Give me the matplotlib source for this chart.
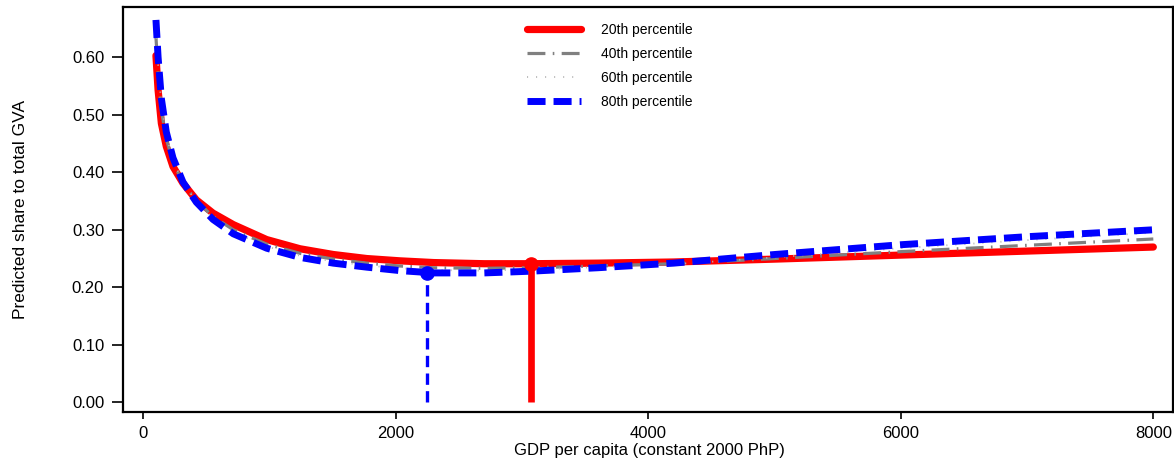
import matplotlib
matplotlib.use("Agg")
import matplotlib.pyplot as plt

plt.rcParams["font.family"] = ["Liberation Sans", "DejaVu Sans"]

# GDP per capita grid (constant 2000 PhP)
gdp = [100, 117, 143, 182, 235, 314, 420, 552, 713, 977, 1241, 1505, 1770,
       2033, 2300, 2700, 3070, 3600, 4200, 5000, 6000, 7000, 8000]

# Predicted share to total GVA by percentile
p20 = [0.603, 0.543, 0.485, 0.445, 0.410, 0.381, 0.352, 0.329, 0.309, 0.283,
       0.267, 0.257, 0.250, 0.246, 0.243, 0.241, 0.241, 0.242, 0.244, 0.249,
       0.256, 0.263, 0.270]
p40 = [0.635, 0.575, 0.508, 0.458, 0.418, 0.382, 0.350, 0.323, 0.300, 0.275,
       0.259, 0.249, 0.242, 0.237, 0.234, 0.233, 0.234, 0.237, 0.241, 0.250,
       0.262, 0.273, 0.284]
p60 = [0.650, 0.588, 0.518, 0.464, 0.421, 0.382, 0.349, 0.320, 0.296, 0.271,
       0.255, 0.245, 0.238, 0.233, 0.230, 0.229, 0.231, 0.235, 0.240, 0.252,
       0.268, 0.282, 0.295]
p80 = [0.665, 0.600, 0.528, 0.470, 0.425, 0.383, 0.348, 0.318, 0.293, 0.268,
       0.252, 0.242, 0.235, 0.229, 0.225, 0.225, 0.228, 0.234, 0.242, 0.257,
       0.274, 0.288, 0.300]

# Turning points of the 20th and 80th percentile curves
turn20 = (3070, 0.241)
turn80 = (2250, 0.225)

series_labels = ["20th percentile", "40th percentile", "60th percentile", "80th percentile"]
xticks = [0, 2000, 4000, 6000, 8000]
yticks = [0.0, 0.1, 0.2, 0.3, 0.4, 0.5, 0.6]

W, H = 1174, 462
fig = plt.figure(figsize=(W / 100, H / 100), dpi=100)
ax = fig.add_axes([123 / W, 1 - 412 / H, (1172.5 - 123) / W, (412 - 7) / H])

ax.plot(gdp, p20, color="#ff0000", lw=5.2, solid_capstyle="round",
        label=series_labels[0], zorder=3)
ax.plot(gdp, p40, color="#808080", lw=2.3, dashes=(5.6, 2.3, 0.5, 2.3),
        label=series_labels[1], zorder=4)
ax.plot(gdp, p60, color="#b8b8b8", lw=1.3, dashes=(0.6, 4.4),
        label=series_labels[2], zorder=4)
ax.plot(gdp, p80, color="#0000ff", lw=5.0, dashes=(2.6, 1.15),
        label=series_labels[3], zorder=5)

# Drop lines from the turning points to the axis
ax.plot([turn20[0], turn20[0]], [0, turn20[1]], color="#ff0000", lw=4.8,
        solid_capstyle="butt", zorder=3)
ax.plot([turn80[0], turn80[0]], [0, turn80[1]], color="#0000ff", lw=2.4,
        dashes=(3.4, 1.9), zorder=5)
ax.plot([turn20[0]], [turn20[1]], "o", color="#ff0000", ms=9.5, zorder=6)
ax.plot([turn80[0]], [turn80[1]], "o", color="#0000ff", ms=9.5, zorder=6)

ax.set_xlim(-161, 8152)
ax.set_ylim(-0.0169, 0.6875)
ax.set_xticks(xticks)
ax.set_xticklabels([str(v) for v in xticks])
ax.set_yticks(yticks)
ax.set_yticklabels([f"{v:.2f}" for v in yticks])
ax.tick_params(axis="x", direction="out", length=5, width=1.2, pad=5,
               labelsize=12, colors="black")
ax.tick_params(axis="y", direction="out", length=8, width=1.2, pad=5.5,
               labelsize=12, colors="black")
for s in ax.spines.values():
    s.set_linewidth(1.6)
    s.set_color("black")

ax.set_xlabel("GDP per capita (constant 2000 PhP)", fontsize=12)
ax.set_ylabel("Predicted share to total GVA", fontsize=12.5)
ax.xaxis.set_label_coords(0.502, -0.0765)
ax.yaxis.set_label_coords(-0.0905, 0.5)

leg = ax.legend(loc="upper left", bbox_to_anchor=((527 - 123) / 1049.5, 0.961),
                frameon=False, fontsize=10, handlelength=3.9,
                handletextpad=1.4, labelspacing=0.72, borderpad=0,
                borderaxespad=0)

fig.savefig("out.png", dpi=100)
